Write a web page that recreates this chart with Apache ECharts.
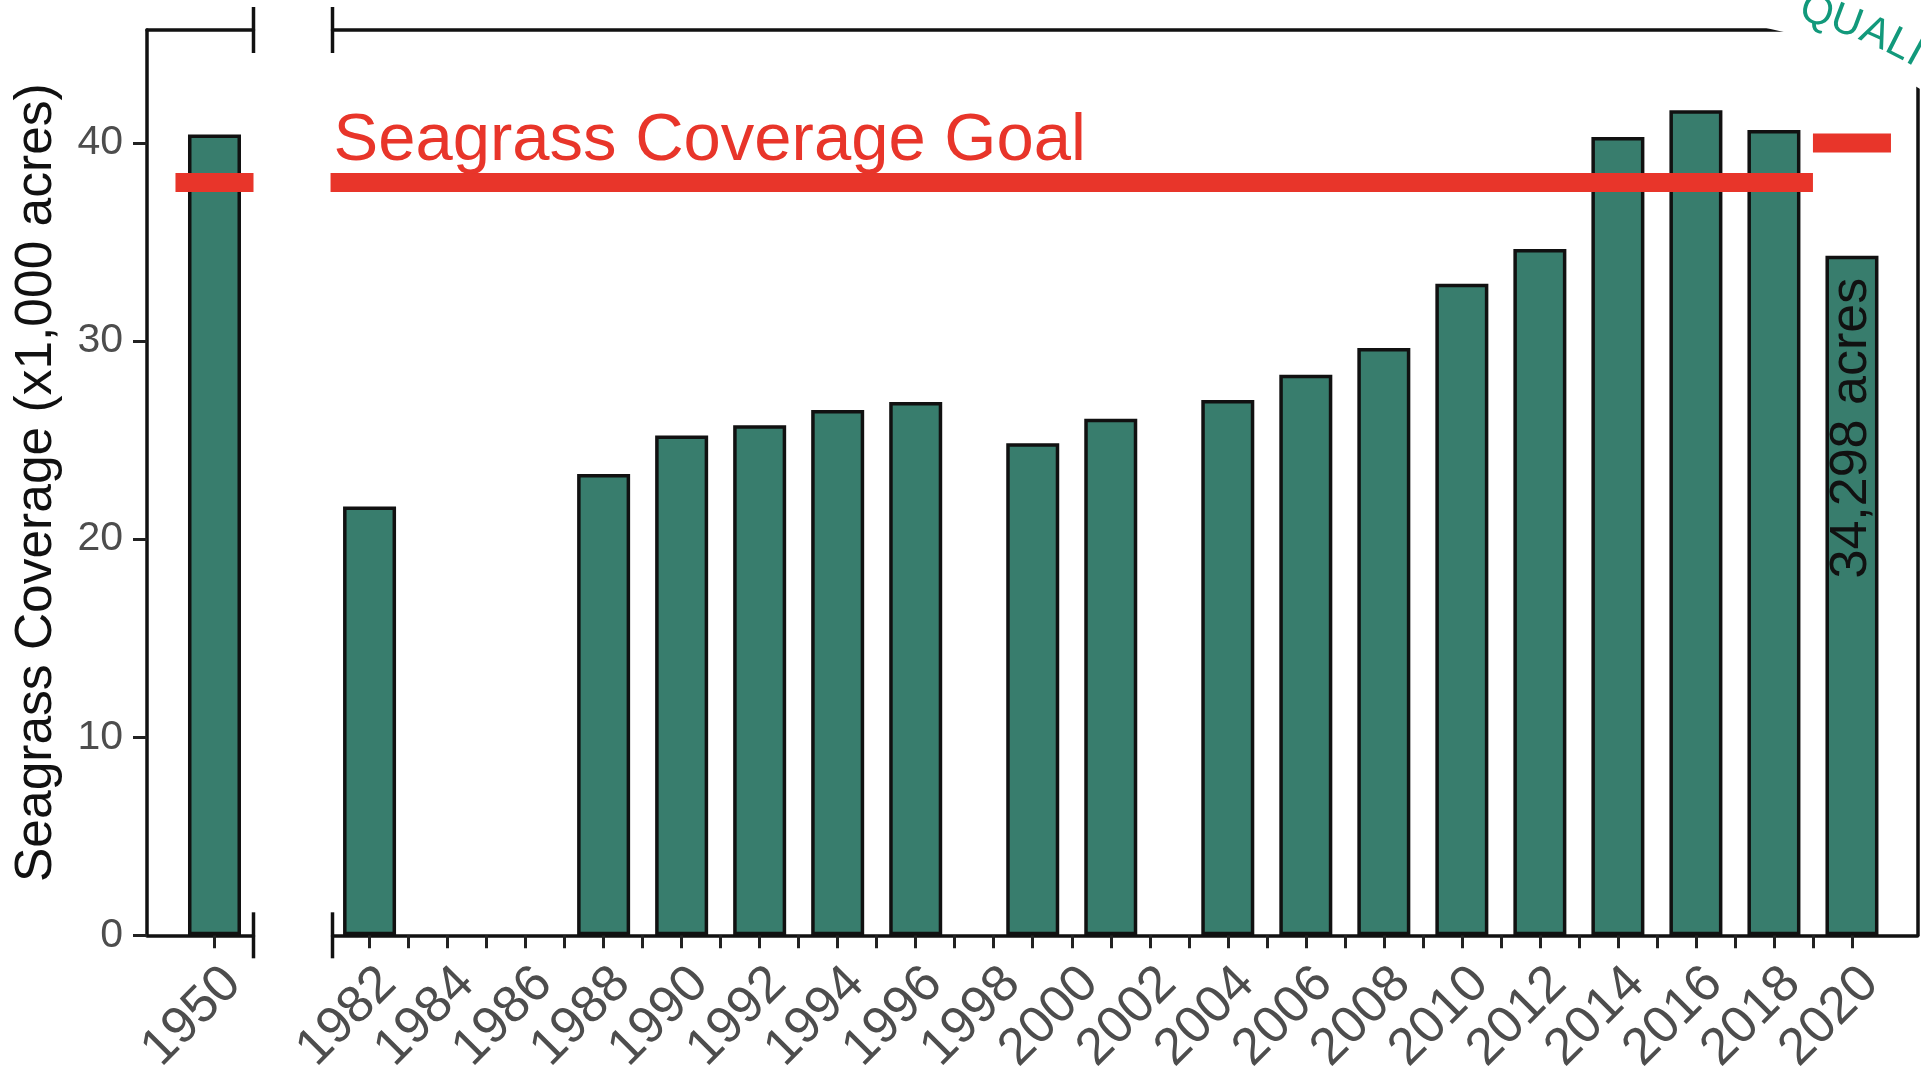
<!DOCTYPE html>
<html>
<head>
<meta charset="utf-8">
<script src="https://cdn.jsdelivr.net/npm/echarts@6/dist/echarts.min.js"></script>
<style>
  html, body { margin: 0; padding: 0; background: #ffffff; }
  #chart { width: 1921px; height: 1078px; }
</style>
</head>
<body>
<div id="chart"></div>
<script>
// ---------------- data ----------------
const years = [1950, 1982, 1988, 1990, 1992, 1994, 1996, 1999, 2001, 2004, 2006, 2008, 2010, 2012, 2014, 2016, 2018, 2020];
const coverage = [40.42, 21.65, 23.285, 25.226, 25.753, 26.518, 26.916, 24.841, 26.078, 27.021, 28.299, 29.647, 32.897, 34.642, 40.295, 41.655, 40.651, 34.298];
const yTickValues = [0, 10, 20, 30, 40];
const leftTickYears = [1950];
const rightTickYears = [1982, 1983, 1984, 1985, 1986, 1987, 1988, 1989, 1990, 1991, 1992, 1993, 1994, 1995, 1996, 1997, 1998, 1999, 2000, 2001, 2002, 2003, 2004, 2005, 2006, 2007, 2008, 2009, 2010, 2011, 2012, 2013, 2014, 2015, 2016, 2017, 2018, 2019, 2020];
const rightLabelYears = [1982, 1984, 1986, 1988, 1990, 1992, 1994, 1996, 1998, 2000, 2002, 2004, 2006, 2008, 2010, 2012, 2014, 2016, 2018, 2020];
const goalStart = [1949, 1981, 2019];
const goalEnd = [1951, 2019, 2021];
const goalValue = [38, 38, 40];
const goalText = 'Seagrass Coverage Goal';
const yTitle = 'Seagrass Coverage (x1,000 acres)';
const latestNote = '34,298 acres';
const badgeLetters = ['Q', 'U', 'A', 'L', 'I'];

// ---------------- layout / style ----------------
const FONT = '"Liberation Sans", Arial, Helvetica, sans-serif';
const BAR = '#387d6d';
const RED = '#e8352a';
const INK = '#111111';
const GREY = '#4d4d4d';
const X0 = [1948.27, 1951.0];
const X1 = [1981.05, 2021.68];
const YMAX = 45.7;
const BREAK_YEAR = 1960;

const leftData = [], rightData = [];
years.forEach((yr, i) => {
  if (yr < BREAK_YEAR) { leftData.push([yr, coverage[i]]); return; }
  const item = { value: [yr, coverage[i]] };
  if (i === years.length - 1) {
    item.label = {
      show: true, formatter: latestNote, position: 'insideTop', rotate: 90,
      align: 'right', verticalAlign: 'middle', distance: 22,
      fontSize: 52, color: INK, fontFamily: FONT
    };
  }
  rightData.push(item);
});

const axisLineStyle = { color: INK, width: 3.5 };
const tickStyle = { color: '#222', width: 3 };
function lineOnlyX(grid, pos, range) {
  return { type: 'value', gridIndex: grid, position: pos, min: range[0], max: range[1],
    axisLine: { show: true, onZero: false, lineStyle: axisLineStyle },
    axisTick: { show: false }, axisLabel: { show: false }, splitLine: { show: false } };
}
function bottomX(grid, range, tickVals, labelVals) {
  return { type: 'value', gridIndex: grid, position: 'bottom', min: range[0], max: range[1],
    axisLine: { show: true, onZero: false, lineStyle: axisLineStyle },
    axisTick: { show: true, length: 13, customValues: tickVals, lineStyle: tickStyle },
    axisLabel: { show: true, customValues: labelVals, rotate: 45, align: 'right', verticalAlign: 'top',
      margin: 22, fontSize: 52, color: GREY, fontFamily: FONT, formatter: v => String(v) },
    splitLine: { show: false } };
}

const barStyle = { color: BAR, borderColor: INK, borderWidth: 3.5 };
const series = [
  { type: 'bar', xAxisIndex: 0, yAxisIndex: 0, data: leftData, barWidth: 53, itemStyle: barStyle, z: 2 },
  { type: 'bar', xAxisIndex: 2, yAxisIndex: 1, data: rightData, barWidth: 53, itemStyle: barStyle, z: 2 }
];
goalStart.forEach((s, i) => {
  const left = goalEnd[i] < BREAK_YEAR;
  series.push({ type: 'line', xAxisIndex: left ? 0 : 2, yAxisIndex: left ? 0 : 1,
    data: [[s, goalValue[i]], [goalEnd[i], goalValue[i]]], symbol: 'none', clip: true, silent: true,
    lineStyle: { color: RED, width: 19, cap: 'butt' }, z: 5 });
});

const option = {
  animation: false,
  backgroundColor: '#ffffff',
  grid: [
    { left: 147, top: 30, width: 106.5, bottom: 142 },
    { left: 332.5, top: 30, right: 3.5, bottom: 142 }
  ],
  xAxis: [
    bottomX(0, X0, leftTickYears, leftTickYears),
    lineOnlyX(0, 'top', X0),
    bottomX(1, X1, rightTickYears, rightLabelYears),
    lineOnlyX(1, 'top', X1)
  ],
  yAxis: [
    { type: 'value', gridIndex: 0, position: 'left', min: 0, max: YMAX,
      name: yTitle, nameLocation: 'middle', nameRotate: 90, nameGap: 84,
      nameTextStyle: { fontSize: 51.5, color: INK, fontFamily: FONT },
      axisLine: { show: true, onZero: false, lineStyle: axisLineStyle },
      axisTick: { show: true, length: 14, customValues: yTickValues, lineStyle: tickStyle },
      axisLabel: { show: true, customValues: yTickValues, margin: 24, fontSize: 41, color: GREY, fontFamily: FONT },
      splitLine: { show: false } },
    { type: 'value', gridIndex: 1, position: 'left', min: 0, max: YMAX, show: false, splitLine: { show: false } },
    { type: 'value', gridIndex: 1, position: 'right', min: 0, max: YMAX,
      axisLine: { show: true, onZero: false, lineStyle: axisLineStyle },
      axisTick: { show: false }, axisLabel: { show: false }, splitLine: { show: false } }
  ],
  series: series
};

const chart = echarts.init(document.getElementById('chart'), null, { renderer: 'canvas' });
chart.setOption(option);

// ---- axis-break brackets, goal caption and badge, placed through the chart's own scales ----
const graphics = [];
const BR = 23;
function bracket(seriesIndex, x, y) {
  const p = chart.convertToPixel({ seriesIndex: seriesIndex }, [x, y]);
  graphics.push({ type: 'line', z: 50, shape: { x1: p[0], y1: p[1] - BR, x2: p[0], y2: p[1] + BR },
    style: { stroke: INK, lineWidth: 3.5 } });
}
bracket(0, X0[1], 0); bracket(0, X0[1], YMAX);
bracket(1, X1[0], 0); bracket(1, X1[0], YMAX);

const gp = chart.convertToPixel({ seriesIndex: 1 }, [X1[0], goalValue[1]]);
graphics.push({ type: 'text', z: 50, x: gp[0] + 1, y: gp[1] - 8,
  style: { text: goalText, fill: RED, font: '67px ' + FONT, textAlign: 'left', textVerticalAlign: 'bottom' } });

// badge corner (white band with teal lettering) at top-right
const bc = [1663, 512], bR = 495;
graphics.push({ type: 'sector', z: 60, shape: { cx: bc[0], cy: bc[1], r0: bR, r: 1300,
  startAngle: -84 * Math.PI / 180, endAngle: -40 * Math.PI / 180, clockwise: true },
  style: { fill: '#ffffff' } });
const letterAngles = [-72.9, -69.5, -66.1, -63.2, -61.2];
badgeLetters.forEach((ch, i) => {
  const th = letterAngles[i] * Math.PI / 180, rr = 523;
  graphics.push({ type: 'text', z: 61, x: bc[0] + rr * Math.cos(th), y: bc[1] + rr * Math.sin(th),
    rotation: -(th + Math.PI / 2),
    style: { text: ch, fill: '#12997b', font: '42px ' + FONT, textAlign: 'center', textVerticalAlign: 'middle' } });
});
chart.setOption({ graphic: graphics });
</script>
</body>
</html>
